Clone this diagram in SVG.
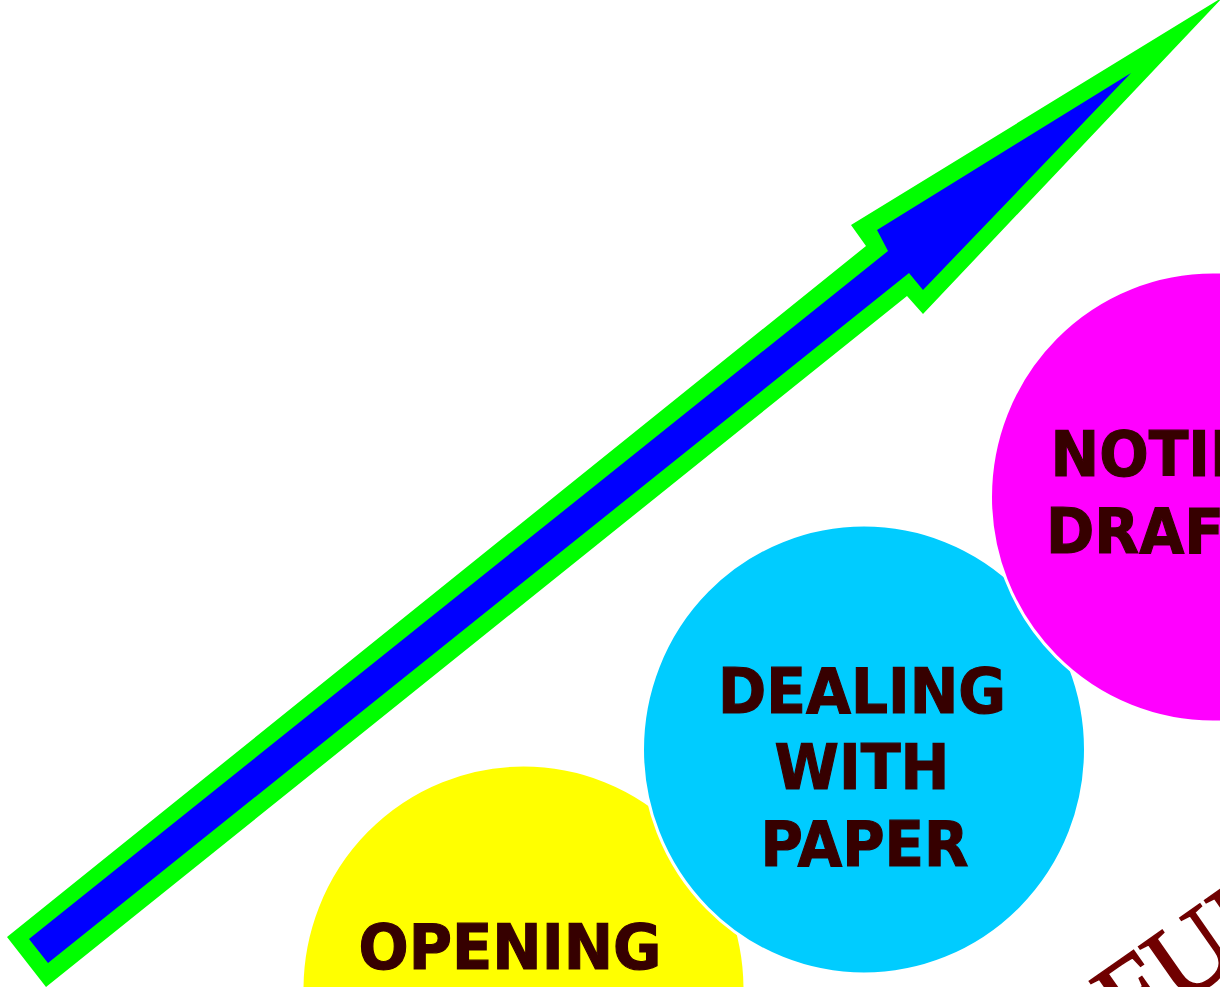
<svg xmlns="http://www.w3.org/2000/svg" width="1220" height="987" viewBox="0 0 1220 987">
  <style>
    .bubble { stroke: #ffffff; stroke-width: 3; }
    .label { font-family: "DejaVu Sans", "Liberation Sans", sans-serif; font-weight: bold; font-size: 63px; fill: #360000; stroke: #360000; stroke-width: 1.2; text-anchor: middle; }
    .arc { font-family: "Liberation Serif", "DejaVu Serif", serif; font-size: 110px; fill: #700000; stroke: #700000; stroke-width: 1.5; }
  </style>
  <rect width="1220" height="987" fill="#ffffff"/>
  <g id="growth-arrow">
    <polygon points="7,937 866,246 851,225 1223,-3 923,314 907,296 46,987" fill="#00ff00"/>
    <polygon points="29,939 888,251 877,230 1131,73 923,290 909,273 48,963" fill="#0000ff"/>
  </g>
  <g id="connectors"/>
  <g id="node-opening">
    <ellipse class="bubble" cx="523.5" cy="989.5" rx="221.5" ry="224.5" fill="#ffff00"/>
    <text class="label" x="510" y="969" textLength="303" lengthAdjust="spacingAndGlyphs">OPENING</text>
  </g>
  <g id="node-dealing">
    <ellipse class="bubble" cx="864" cy="749.5" rx="221.5" ry="224.5" fill="#00ccff"/>
    <text class="label" x="862" y="713" textLength="288" lengthAdjust="spacingAndGlyphs">DEALING</text>
    <text class="label" x="862" y="789" textLength="175" lengthAdjust="spacingAndGlyphs">WITH</text>
    <text class="label" x="864.5" y="866" textLength="208" lengthAdjust="spacingAndGlyphs">PAPER</text>
  </g>
  <g id="node-noting">
    <ellipse class="bubble" cx="1213" cy="497" rx="222.5" ry="225" fill="#ff00ff"/>
    <text class="label" x="1214" y="476" textLength="327" lengthAdjust="spacingAndGlyphs">NOTING &amp;</text>
    <text class="label" x="1214" y="553" textLength="336" lengthAdjust="spacingAndGlyphs">DRAFTING</text>
  </g>
  <g id="arc-title">
    <text class="arc" transform="translate(1128,1042) rotate(-35)">FUNCTIONS</text>
  </g>
</svg>
